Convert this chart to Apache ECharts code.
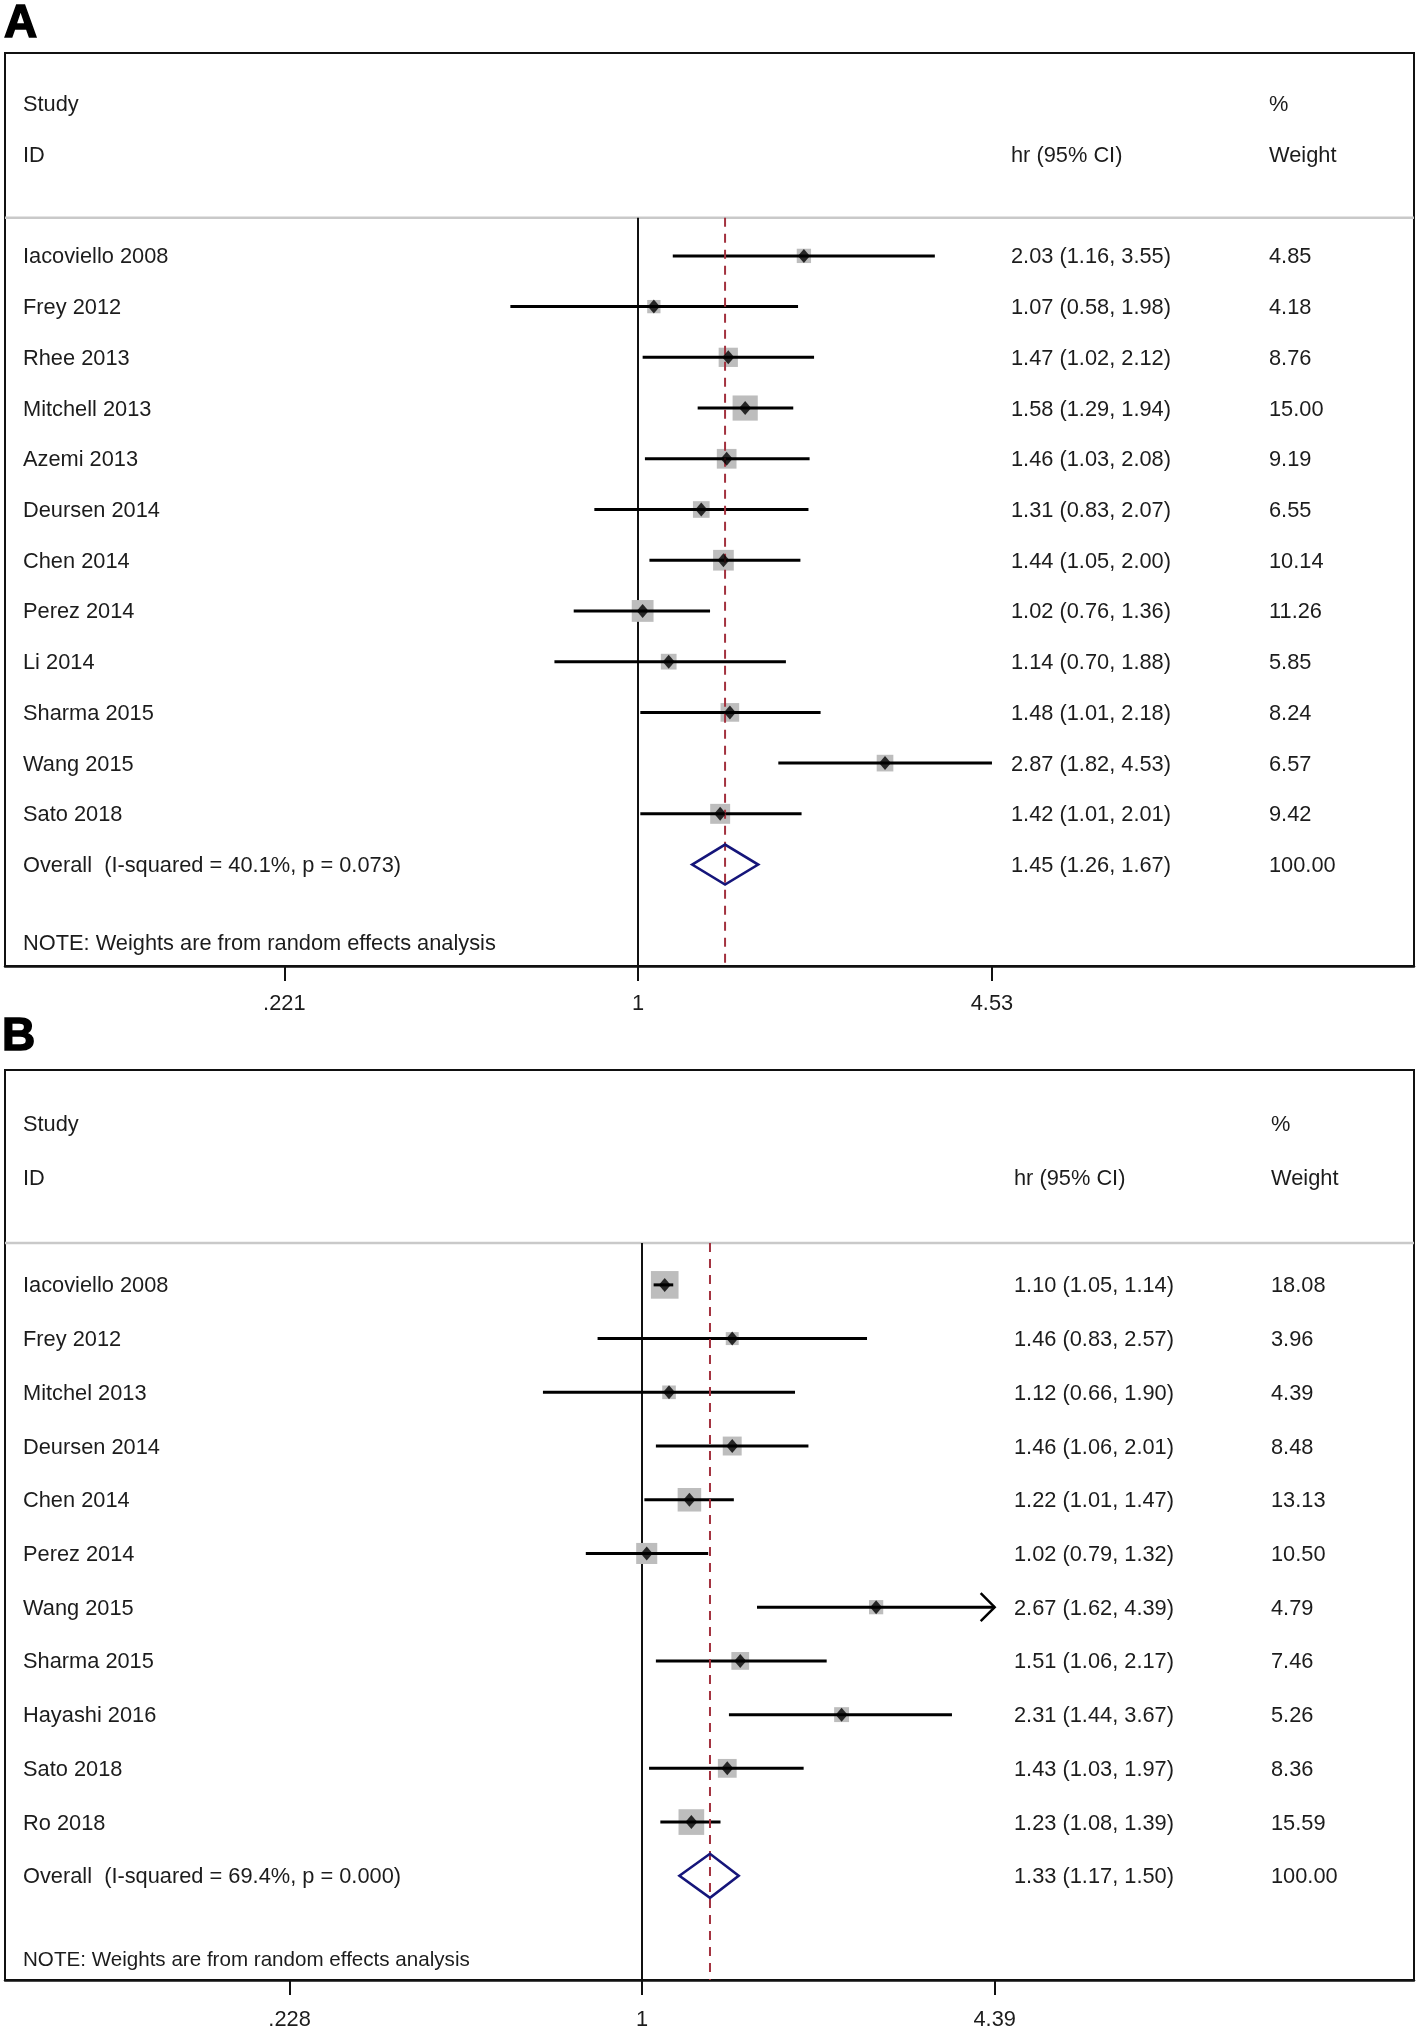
<!DOCTYPE html>
<html>
<head>
<meta charset="utf-8">
<script src="https://cdn.jsdelivr.net/npm/echarts@6/dist/echarts.min.js"></script>
<style>
html,body{margin:0;padding:0;background:#fff;}
#chart{width:1418px;height:2030px;}
</style>
</head>
<body>
<div id="chart"></div>
<script>
// ---------------- DATA: Panel A ----------------
const studiesA = ['Iacoviello 2008','Frey 2012','Rhee 2013','Mitchell 2013','Azemi 2013','Deursen 2014','Chen 2014','Perez 2014','Li 2014','Sharma 2015','Wang 2015','Sato 2018'];
const hrA     = [2.03, 1.07, 1.47, 1.58, 1.46, 1.31, 1.44, 1.02, 1.14, 1.48, 2.87, 1.42];
const lowA    = [1.16, 0.58, 1.02, 1.29, 1.03, 0.83, 1.05, 0.76, 0.70, 1.01, 1.82, 1.01];
const highA   = [3.55, 1.98, 2.12, 1.94, 2.08, 2.07, 2.00, 1.36, 1.88, 2.18, 4.53, 2.01];
const weightA = [4.85, 4.18, 8.76, 15.00, 9.19, 6.55, 10.14, 11.26, 5.85, 8.24, 6.57, 9.42];
const overallLabelA = 'Overall  (I-squared = 40.1%, p = 0.073)';
const overallA = [1.45, 1.26, 1.67];   // hr, low, high
const overallWeightA = 100.00;
const ticksA = [0.221, 1, 4.53];
const tickLabelsA = ['.221', '1', '4.53'];
const arrowsA = [];

// ---------------- DATA: Panel B ----------------
const studiesB = ['Iacoviello 2008','Frey 2012','Mitchel 2013','Deursen 2014','Chen 2014','Perez 2014','Wang 2015','Sharma 2015','Hayashi 2016','Sato 2018','Ro 2018'];
const hrB     = [1.10, 1.46, 1.12, 1.46, 1.22, 1.02, 2.67, 1.51, 2.31, 1.43, 1.23];
const lowB    = [1.05, 0.83, 0.66, 1.06, 1.01, 0.79, 1.62, 1.06, 1.44, 1.03, 1.08];
const highB   = [1.14, 2.57, 1.90, 2.01, 1.47, 1.32, 4.39, 2.17, 3.67, 1.97, 1.39];
const weightB = [18.08, 3.96, 4.39, 8.48, 13.13, 10.50, 4.79, 7.46, 5.26, 8.36, 15.59];
const overallLabelB = 'Overall  (I-squared = 69.4%, p = 0.000)';
const overallB = [1.33, 1.17, 1.50];
const overallWeightB = 100.00;
const ticksB = [0.228, 1, 4.39];
const tickLabelsB = ['.228', '1', '4.39'];
const arrowsB = ['Wang 2015'];   // CI truncated at axis max, drawn with arrow

const nullValue = 1;
const noteText = 'NOTE: Weights are from random effects analysis';
const headerStudy = 'Study', headerID = 'ID', headerHR = 'hr (95% CI)', headerPct = '%', headerWeight = 'Weight';

// ---------------- LAYOUT ----------------
const FONT = '"Liberation Sans", Arial, Helvetica, sans-serif';
const TEXT_COLOR = '#1c1c1c';
const GRID_LEFT = 5, GRID_RIGHT_EDGE = 1414;
const TEXT_DY = 1.5;
const layoutA = {top:53, height:913, rowMin:-4, rowMax:14, zeroPx:638, pxPerLn:234.3, sepRow:-0.75,
  noteRow:13.53, nameColPx:23, hrColPx:1011, wtColPx:1269, diamondHalf:20, labelMargin:27, fontSize:21.8, noteSize:21.8};
const layoutB = {top:1070, height:910, rowMin:-4, rowMax:12.94, zeroPx:642, pxPerLn:238.4, sepRow:-0.78,
  noteRow:12.55, nameColPx:23, hrColPx:1014, wtColPx:1271, diamondHalf:22, labelMargin:28.5, fontSize:21.8, noteSize:20.6};
const SQUARE_K = 6.5;  // square side = K * sqrt(weight)

function f2(v){ return v.toFixed(2); }

function buildPanel(pi, L, D) {
  const ln = Math.log;
  L.xMin = (GRID_LEFT - L.zeroPx) / L.pxPerLn;
  L.xMax = (GRID_RIGHT_EDGE - L.zeroPx) / L.pxPerLn;
  const px2v = px => (px - L.zeroPx) / L.pxPerLn;
  const n = D.names.length;
  const tickLns = D.ticks.map(t => ln(t));
  const lnTickMax = Math.max.apply(null, tickLns);

  const grid = {left: GRID_LEFT, top: L.top, width: GRID_RIGHT_EDGE - GRID_LEFT, height: L.height,
    show: true, borderColor: '#111', borderWidth: 2, backgroundColor: 'rgba(0,0,0,0)', outerBoundsMode: 'none', containLabel: false};
  const xAxis = {type: 'value', gridIndex: pi, min: L.xMin, max: L.xMax, position: 'bottom',
    axisLine: {show: true, onZero: false, lineStyle: {color: '#111', width: 2.5}},
    axisTick: {show: true, inside: false, length: 15, customValues: tickLns, lineStyle: {color: '#111', width: 2}},
    axisLabel: {show: true, customValues: tickLns, margin: L.labelMargin, fontSize: L.fontSize, fontFamily: FONT, color: TEXT_COLOR,
      formatter: v => { for (let i = 0; i < tickLns.length; i++) if (Math.abs(tickLns[i] - v) < 1e-6) return D.tickLabels[i]; return ''; }},
    splitLine: {show: false}};
  const yAxis = {type: 'value', gridIndex: pi, min: L.rowMin, max: L.rowMax, inverse: true, show: false,
    axisLine:{show:false}, axisTick:{show:false}, axisLabel:{show:false}, splitLine:{show:false}};

  const base = {xAxisIndex: pi, yAxisIndex: pi, silent: true, animation: false, clip: false};
  const studyData = D.names.map((_, i) => [ln(D.hr[i]), i, ln(D.low[i]), ln(D.high[i]), D.weight[i]]);
  const series = [];

  // separator + null line
  series.push(Object.assign({}, base, {type: 'custom', data: [[ln(nullValue), L.sepRow]],
    renderItem: (p, api) => {
      const a = api.coord([L.xMin, L.sepRow]), b = api.coord([L.xMax, L.sepRow]);
      const t = api.coord([api.value(0), L.sepRow]), bt = api.coord([api.value(0), L.rowMax]);
      return {type: 'group', children: [
        {type: 'line', shape: {x1: a[0], y1: a[1], x2: b[0], y2: b[1]}, style: {stroke: '#c9c9c9', lineWidth: 2.5}},
        {type: 'line', shape: {x1: t[0], y1: t[1], x2: bt[0], y2: bt[1]}, style: {stroke: '#111', lineWidth: 2}}
      ]};
    }}));

  // weight squares
  series.push(Object.assign({}, base, {type: 'custom', data: studyData,
    renderItem: (p, api) => {
      const c = api.coord([api.value(0), api.value(1)]);
      const s = SQUARE_K * Math.sqrt(api.value(4));
      return {type: 'rect', shape: {x: c[0] - s / 2, y: c[1] - s / 2, width: s, height: s}, style: {fill: '#bdbdbd'}};
    }}));

  // CI lines
  series.push(Object.assign({}, base, {type: 'custom', data: studyData,
    renderItem: (p, api) => {
      const row = api.value(1);
      const hiV = Math.min(api.value(3), lnTickMax + 1e-9);
      const a = api.coord([api.value(2), row]), b = api.coord([hiV, row]);
      const children = [{type: 'line', shape: {x1: a[0], y1: a[1], x2: b[0], y2: b[1]}, style: {stroke: '#000', lineWidth: 3}}];
      if (D.arrows.indexOf(D.names[p.dataIndex]) >= 0) {
        children.push({type: 'polyline', shape: {points: [[b[0] - 14, b[1] - 14], [b[0], b[1]], [b[0] - 14, b[1] + 14]]},
          style: {stroke: '#000', lineWidth: 2.5, fill: null}});
      }
      return {type: 'group', children: children};
    }}));

  // point estimate markers
  series.push(Object.assign({}, base, {type: 'scatter', data: studyData.map(d => [d[0], d[1]]),
    symbol: 'diamond', symbolSize: [12, 14], itemStyle: {color: '#000'}}));

  // overall dashed line
  series.push(Object.assign({}, base, {type: 'custom', data: [[ln(D.overall[0]), L.sepRow]],
    renderItem: (p, api) => {
      const t = api.coord([api.value(0), L.sepRow]), bt = api.coord([api.value(0), L.rowMax]);
      return {type: 'line', shape: {x1: t[0], y1: t[1], x2: bt[0], y2: bt[1]},
        style: {stroke: '#a3323f', lineWidth: 2, lineDash: [9, 7]}};
    }}));

  // overall diamond
  series.push(Object.assign({}, base, {type: 'custom', data: [[ln(D.overall[0]), n, ln(D.overall[1]), ln(D.overall[2])]],
    renderItem: (p, api) => {
      const c = api.coord([api.value(0), api.value(1)]);
      const l = api.coord([api.value(2), api.value(1)]);
      const r = api.coord([api.value(3), api.value(1)]);
      const h = L.diamondHalf;
      return {type: 'polygon', shape: {points: [[l[0], c[1]], [c[0], c[1] - h], [r[0], c[1]], [c[0], c[1] + h]]},
        style: {stroke: '#15157a', lineWidth: 2.6, fill: null}};
    }}));

  // text columns
  const texts = [];
  texts.push({px: L.nameColPx, row: -3, t: headerStudy});
  texts.push({px: L.nameColPx, row: -2, t: headerID});
  texts.push({px: L.wtColPx, row: -3, t: headerPct});
  texts.push({px: L.hrColPx, row: -2, t: headerHR});
  texts.push({px: L.wtColPx, row: -2, t: headerWeight});
  D.names.forEach((nm, i) => {
    texts.push({px: L.nameColPx, row: i, t: nm});
    texts.push({px: L.hrColPx, row: i, t: f2(D.hr[i]) + ' (' + f2(D.low[i]) + ', ' + f2(D.high[i]) + ')'});
    texts.push({px: L.wtColPx, row: i, t: f2(D.weight[i])});
  });
  texts.push({px: L.nameColPx, row: n, t: D.overallLabel});
  texts.push({px: L.hrColPx, row: n, t: f2(D.overall[0]) + ' (' + f2(D.overall[1]) + ', ' + f2(D.overall[2]) + ')'});
  texts.push({px: L.wtColPx, row: n, t: f2(D.overallWeight)});
  texts.push({px: L.nameColPx, row: L.noteRow, t: noteText, size: L.noteSize});

  series.push(Object.assign({}, base, {type: 'custom', data: texts.map(o => [px2v(o.px), o.row]),
    renderItem: (p, api) => {
      const o = texts[p.dataIndex];
      const c = api.coord([api.value(0), api.value(1)]);
      return {type: 'text', x: c[0], y: c[1] + TEXT_DY,
        style: {text: o.t, fill: TEXT_COLOR, fontSize: o.size || L.fontSize, fontFamily: FONT, align: 'left', verticalAlign: 'middle'}};
    }}));

  return {grid, xAxis, yAxis, series};
}

const pA = buildPanel(0, layoutA, {names: studiesA, hr: hrA, low: lowA, high: highA, weight: weightA,
  overallLabel: overallLabelA, overall: overallA, overallWeight: overallWeightA, ticks: ticksA, tickLabels: tickLabelsA, arrows: arrowsA});
const pB = buildPanel(1, layoutB, {names: studiesB, hr: hrB, low: lowB, high: highB, weight: weightB,
  overallLabel: overallLabelB, overall: overallB, overallWeight: overallWeightB, ticks: ticksB, tickLabels: tickLabelsB, arrows: arrowsB});

const chart = echarts.init(document.getElementById('chart'), null, {renderer: 'canvas', width: 1418, height: 2030});
chart.setOption({
  backgroundColor: '#fff',
  animation: false,
  grid: [pA.grid, pB.grid],
  xAxis: [pA.xAxis, pB.xAxis],
  yAxis: [pA.yAxis, pB.yAxis],
  series: pA.series.concat(pB.series),
  graphic: [
    {type: 'text', x: 4, y: 24, style: {text: 'A', fill: '#000', fontSize: 46, fontWeight: 'bold', fontFamily: FONT, align: 'left', verticalAlign: 'middle', stroke: '#000', lineWidth: 1.5}},
    {type: 'text', x: 2, y: 1037, style: {text: 'B', fill: '#000', fontSize: 46, fontWeight: 'bold', fontFamily: FONT, align: 'left', verticalAlign: 'middle', stroke: '#000', lineWidth: 1.5}}
  ]
});
</script>
</body>
</html>
